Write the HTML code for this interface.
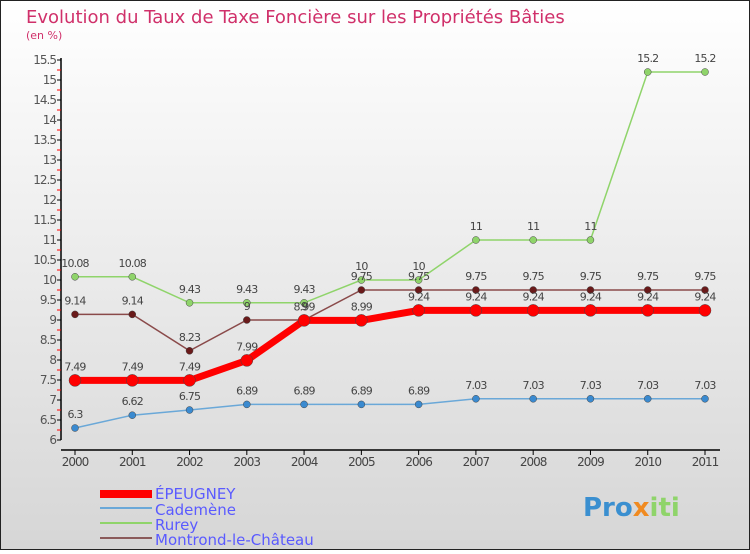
<!DOCTYPE html>
<html><head><meta charset="utf-8"><style>
body{margin:0;}
#c{width:750px;height:550px;position:relative;font-family:"DejaVu Sans","Liberation Sans",sans-serif;}
</style></head><body>
<div id="c">
<svg id="s" width="750" height="550" xmlns="http://www.w3.org/2000/svg">
<defs><linearGradient id="bg" x1="0" y1="0" x2="0" y2="1"><stop offset="0" stop-color="#ffffff"/><stop offset="1" stop-color="#d6d6d6"/></linearGradient></defs>
<rect x="0.5" y="0.5" width="749" height="549" fill="url(#bg)" stroke="#222"/>
<text x="26" y="23" font-size="18" fill="#d0306a">Evolution du Taux de Taxe Foncière sur les Propriétés Bâties</text>
<text x="26" y="39" font-size="11" fill="#d0306a">(en %)</text>
<g id="axes"></g><g id="series"></g>
<g>
<rect x="100" y="490" width="52" height="8" fill="#f00"/>
<line x1="100" y1="508" x2="152" y2="508" stroke="#6aa8d8" stroke-width="2"/>
<line x1="100" y1="523" x2="152" y2="523" stroke="#8fd46a" stroke-width="2"/>
<line x1="100" y1="538" x2="152" y2="538" stroke="#8a5a5a" stroke-width="2"/>
<g font-size="15" fill="#5a5aff"><text x="155" y="499">ÉPEUGNEY</text><text x="155" y="515">Cademène</text><text x="155" y="530">Rurey</text><text x="155" y="545">Montrond-le-Château</text></g>
</g>
<text x="583" y="516" font-size="26" font-weight="bold" fill="#3a8fd0">Pro<tspan fill="#f08a20">x</tspan><tspan fill="#8fd46a">iti</tspan></text>
</svg></div>
<script>
const years=["2000","2001","2002","2003","2004","2005","2006","2007","2008","2009","2010","2011"];
const yTicks=[6,6.5,7,7.5,8,8.5,9,9.5,10,10.5,11,11.5,12,12.5,13,13.5,14,14.5,15,15.5];
const epeugney=[7.49,7.49,7.49,7.99,8.99,8.99,9.24,9.24,9.24,9.24,9.24,9.24];
const cademene=[6.3,6.62,6.75,6.89,6.89,6.89,6.89,7.03,7.03,7.03,7.03,7.03];
const rurey=[10.08,10.08,9.43,9.43,9.43,10,10,11,11,11,15.2,15.2];
const montrond=[9.14,9.14,8.23,9,9,9.75,9.75,9.75,9.75,9.75,9.75,9.75];
const NS="http://www.w3.org/2000/svg";
const X=i=>75+i*(630/11), Y=v=>440-(v-6)*40;
function mk(t,a,p){const e=document.createElementNS(NS,t);for(const k in a)e.setAttribute(k,a[k]);p.appendChild(e);return e;}
const ax=document.getElementById('axes');
let l=mk('line',{x1:61,y1:58,x2:61,y2:440,stroke:'#000','stroke-width':1.5},ax);


l=mk('line',{x1:61,y1:450,x2:720,y2:450,stroke:'#000','stroke-width':1.5},ax);


yTicks.forEach(v=>{const y=Y(v);
 mk('line',{x1:57,y1:y,x2:61,y2:y,stroke:'#000'},ax);
 if(v<15.5)mk('line',{x1:57,y1:y-10,x2:61,y2:y-10,stroke:'#f00'},ax);
 const t=mk('text',{x:56,y:y+4,'text-anchor':'end','font-size':12,fill:'#555','letter-spacing':'-1'},ax);
 
 
 t.textContent=v;});
years.forEach((yr,i)=>{const x=X(i);
 mk('line',{x1:x,y1:450,x2:x,y2:455,stroke:'#000'},ax);
 const t=mk('text',{x:x,y:466,'text-anchor':'middle','font-size':12,fill:'#444','letter-spacing':'-1'},ax);
 
 
 t.textContent=yr;});
const sg=document.getElementById('series');
function series(name,data,color,w,r,fill){
 const g=mk('g',{},sg);
 
 
 mk('polyline',{points:data.map((v,i)=>X(i)+','+Y(v)).join(' '),fill:'none',stroke:color,'stroke-width':w},g);
 data.forEach((v,i)=>{const c=mk('circle',{cx:X(i),cy:Y(v),r:r,fill:fill,stroke:'#444','stroke-width':0.5},g);
  
  
  const t=mk('text',{x:X(i),y:Y(v)-10,'text-anchor':'middle','font-size':11,fill:'#444','letter-spacing':'-0.8'},g);
  t.textContent=v;});
}
series('rurey',rurey,'#8fd46a',1.5,3.5,'#8fd46a');
series('montrond',montrond,'#8a4a4a',1.5,3.5,'#6a1a1a');
series('cademene',cademene,'#6aa8d8',1.5,3.5,'#3a8ad0');
series('epeugney',epeugney,'#f00',7,6,'#f00');
</script>
</body></html>
